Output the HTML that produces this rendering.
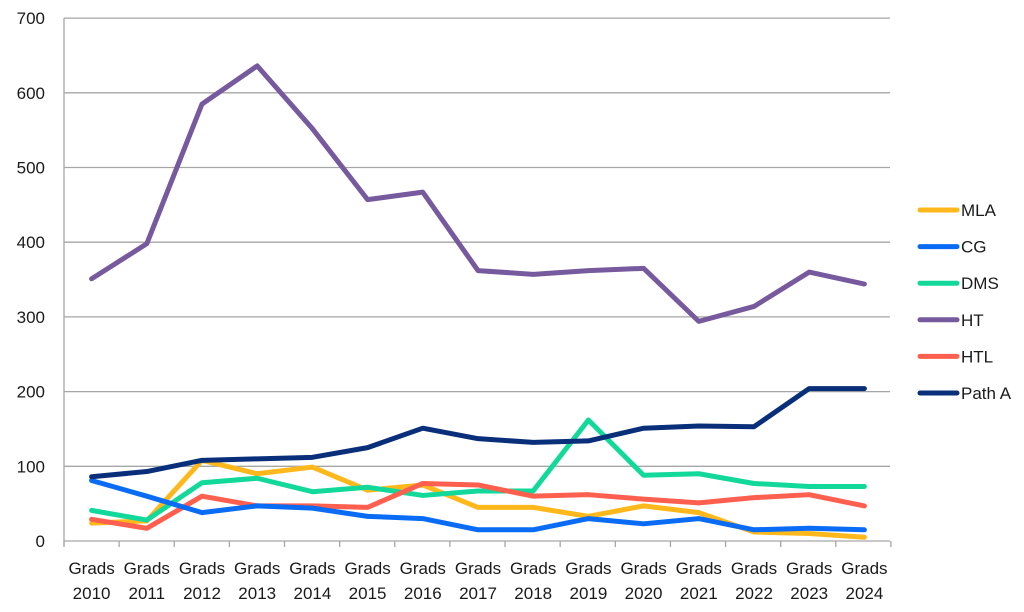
<!DOCTYPE html>
<html><head><meta charset="utf-8"><style>
html,body{margin:0;padding:0;background:#fff;}
svg{display:block;font-family:"Liberation Sans",sans-serif;}
</style></head><body>
<svg id="c" width="1024" height="612" xmlns="http://www.w3.org/2000/svg"></svg>
<script>
var s=document.getElementById('c'),h='';
function Y(v){return 541-0.747*v;}
for(var k=0;k<=7;k++){var y=Y(k*100);
 h+='<line x1="64" x2="890" y1="'+y+'" y2="'+y+'" stroke="#a6a6a6" stroke-width="1.3"/>';
 h+='<text x="45" y="'+(y+6)+'" text-anchor="end" font-size="17" fill="#1a1a1a">'+(k*100)+'</text>';}
h+='<line x1="64" x2="64" y1="18" y2="546" stroke="#a6a6a6" stroke-width="1.3"/>';
for(var i=0;i<=15;i++){var x=64+55.13*i;h+='<line x1="'+x+'" x2="'+x+'" y1="541" y2="547" stroke="#a6a6a6" stroke-width="1.3"/>';}
function X(i){return 91.6+55.2*i;}
for(var i=0;i<15;i++){h+='<text x="'+X(i)+'" y="574" text-anchor="middle" font-size="17" fill="#1a1a1a">Grads</text><text x="'+X(i)+'" y="599" text-anchor="middle" font-size="17" fill="#1a1a1a">'+(2010+i)+'</text>';}
var S=[
['MLA','#FFB81C',[24,27,108,90,99,68,75,45,45,33,47,38,12,10,5]],
['CG','#0A6CF5',[81,60,38,47,44,33,30,15,15,30,23,30,15,17,15]],
['DMS','#12D89A',[41,28,78,84,66,72,61,67,67,162,88,90,77,73,73]],
['HT','#775A9E',[351,398,585,636,552,457,467,362,357,362,365,294,314,360,344]],
['HTL','#FF5F4E',[29,17,60,47,47,45,77,75,60,62,56,51,58,62,47]],
['Path A','#0A2F7A',[86,93,108,110,112,125,151,137,132,134,151,154,153,204,204]]];
var order=[3,0,2,4,1,5];
order.forEach(function(j){var d=S[j],p=d[2].map(function(v,i){return X(i)+','+Y(v);}).join(' ');
 h+='<polyline points="'+p+'" fill="none" stroke="'+d[1]+'" stroke-width="5" stroke-linejoin="round" stroke-linecap="round"/>';});
S.forEach(function(d,j){var y=210+36.6*j;
 h+='<line x1="920" x2="957" y1="'+y+'" y2="'+y+'" stroke="'+d[1]+'" stroke-width="5" stroke-linecap="round"/>';
 h+='<text x="961" y="'+(y+6)+'" font-size="17" fill="#1a1a1a">'+d[0]+'</text>';});
s.innerHTML=h;
</script>
</body></html>
